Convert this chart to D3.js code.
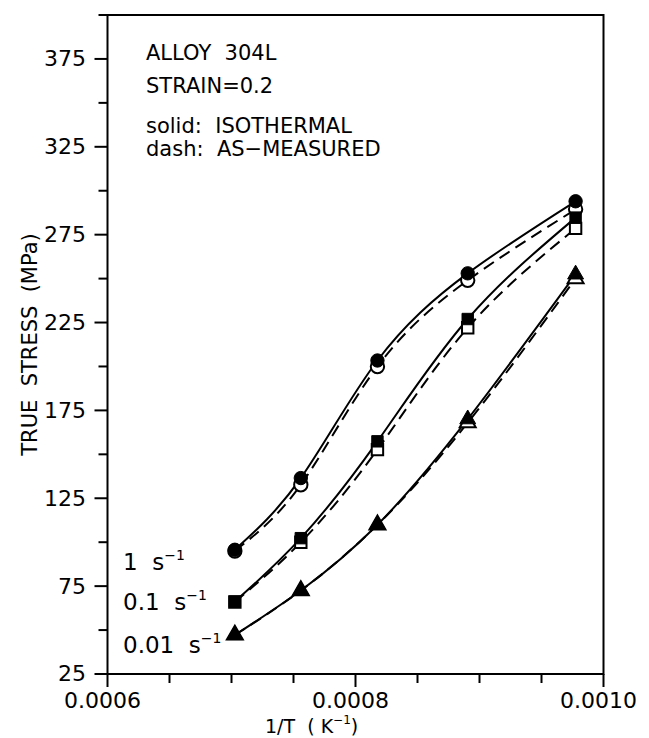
<!DOCTYPE html>
<html>
<head>
<meta charset="utf-8">
<script src="https://cdn.jsdelivr.net/npm/d3@7"></script>
<style>
  html, body { margin: 0; padding: 0; background: #fff; }
  svg text { font-family: "DejaVu Sans", "Liberation Sans", sans-serif; fill: #000; }
</style>
</head>
<body>
<svg id="chart" width="649" height="738"></svg>
<script>
// ---- data ----
const invT = [0.0007027, 0.0007559, 0.0008177, 0.0008905, 0.0009775];
const iso_1 = [95.7, 136.5, 203.4, 253, 294];
const meas_1 = [95, 132.7, 200, 249, 289.4];
const iso_01 = [66.2, 102.3, 157.4, 227, 284.7];
const meas_01 = [66, 100, 152.7, 222, 278.6];
const iso_001 = [47.2, 72.5, 109.9, 170, 252.4];
const meas_001 = [47.2, 72.5, 109.9, 168, 250];
const rateLabels = ["1", "0.1", "0.01"];
const rateLabelValues = [84.2, 61.4, 37];
const xTicks = [0.0006, 0.00065, 0.0007, 0.00075, 0.0008, 0.00085, 0.0009, 0.00095, 0.0010];
const xTickLabels = [0.0006, 0.0008, 0.0010];
const yTicks = d3.range(25, 401, 25);
const yTickLabels = [25, 75, 125, 175, 225, 275, 325, 375];
const annotations = ["ALLOY  304L", "STRAIN=0.2", "solid:  ISOTHERMAL", "dash:  AS\u2212MEASURED"];

const svg = d3.select("#chart");
const L = 107.5, R = 603.5, T = 15, B = 674;
const x = d3.scaleLinear().domain([0.0006, 0.0010]).range([L, R]);
const y = d3.scaleLinear().domain([25, 400]).range([B, T]);

// frame
svg.append("rect").attr("x", L).attr("y", T).attr("width", R - L).attr("height", B - T)
  .attr("fill", "none").attr("stroke", "#000").attr("stroke-width", 2);

// x axis ticks
const gx = svg.append("g");
gx.selectAll("line").data(xTicks).join("line")
  .attr("x1", d => x(d)).attr("x2", d => x(d))
  .attr("y1", B).attr("y2", d => B + (xTickLabels.some(v => Math.abs(v - d) < 1e-9) ? 13 : 9))
  .attr("stroke", "#000").attr("stroke-width", 2);
gx.selectAll("text").data(xTickLabels).join("text")
  .attr("x", d => x(d) - 5).attr("y", 707.5).attr("text-anchor", "middle")
  .attr("font-size", 22).text(d => d.toFixed(4));

// y axis ticks
const gy = svg.append("g");
gy.selectAll("line").data(yTicks).join("line")
  .attr("y1", d => y(d)).attr("y2", d => y(d))
  .attr("x1", d => L - (yTickLabels.includes(d) ? 13 : 9))
  .attr("x2", d => d === 25 ? L + 6 : L)
  .attr("stroke", "#000").attr("stroke-width", 2);
gy.selectAll("text").data(yTickLabels).join("text")
  .attr("x", 86).attr("y", d => y(d)).attr("dy", "0.34em").attr("text-anchor", "end")
  .attr("font-size", 22).text(d => d);

// axis titles
svg.append("text").attr("transform", `translate(37,${(T + B) / 2}) rotate(-90)`)
  .attr("text-anchor", "middle").attr("font-size", 21)
  .attr("xml:space", "preserve").style("white-space", "pre").text("TRUE  STRESS  (MPa)");
const xt = svg.append("text").attr("x", 265).attr("y", 732.5).attr("font-size", 19)
  .attr("xml:space", "preserve").style("white-space", "pre");
xt.append("tspan").text("1/T  ( K");
xt.append("tspan").attr("font-size", 12).attr("dy", -9).text("\u22121");
xt.append("tspan").attr("dy", 9).text(")");

// annotations
const annY = [60, 93, 133, 156];
svg.selectAll("text.ann").data(annotations).join("text").attr("class", "ann")
  .attr("x", 146).attr("y", (d, i) => annY[i]).attr("font-size", 21)
  .attr("xml:space", "preserve").style("white-space", "pre").text(d => d);

// curves
const line = d3.line().x(d => x(d[0])).y(d => y(d[1])).curve(d3.curveNatural);
const series = [
  { iso: iso_1, meas: meas_1, sym: d3.symbolCircle, size: 140 },
  { iso: iso_01, meas: meas_01, sym: d3.symbolSquare, size: 130 },
  { iso: iso_001, meas: meas_001, sym: d3.symbolTriangle, size: 110 }
];
series.forEach(s => {
  svg.append("path").datum(invT.map((t, i) => [t, s.iso[i]])).attr("d", line)
    .attr("fill", "none").attr("stroke", "#000").attr("stroke-width", 2);
  svg.append("path").datum(invT.map((t, i) => [t, s.meas[i]])).attr("d", line)
    .attr("fill", "none").attr("stroke", "#000").attr("stroke-width", 2).attr("stroke-dasharray", "12,7");
});
series.forEach(s => {
  const sym = d3.symbol().type(s.sym).size(s.size);
  svg.append("g").selectAll("path").data(invT.map((t, i) => [t, s.meas[i]])).join("path")
    .attr("transform", d => `translate(${x(d[0])},${y(d[1])})`).attr("d", sym)
    .attr("fill", "#fff").attr("stroke", "#000").attr("stroke-width", 2);
  svg.append("g").selectAll("path").data(invT.map((t, i) => [t, s.iso[i]])).join("path")
    .attr("transform", d => `translate(${x(d[0])},${y(d[1])})`).attr("d", sym)
    .attr("fill", "#000").attr("stroke", "#000").attr("stroke-width", 1);
});

// strain-rate labels
const rl = svg.selectAll("text.rate").data(rateLabels).join("text").attr("class", "rate")
  .attr("x", 123).attr("y", (d, i) => y(rateLabelValues[i])).attr("font-size", 23)
  .attr("xml:space", "preserve").style("white-space", "pre");
rl.append("tspan").text(d => d + "  s");
rl.append("tspan").attr("font-size", 14).attr("dy", -10).text("\u22121");
</script>
</body>
</html>
